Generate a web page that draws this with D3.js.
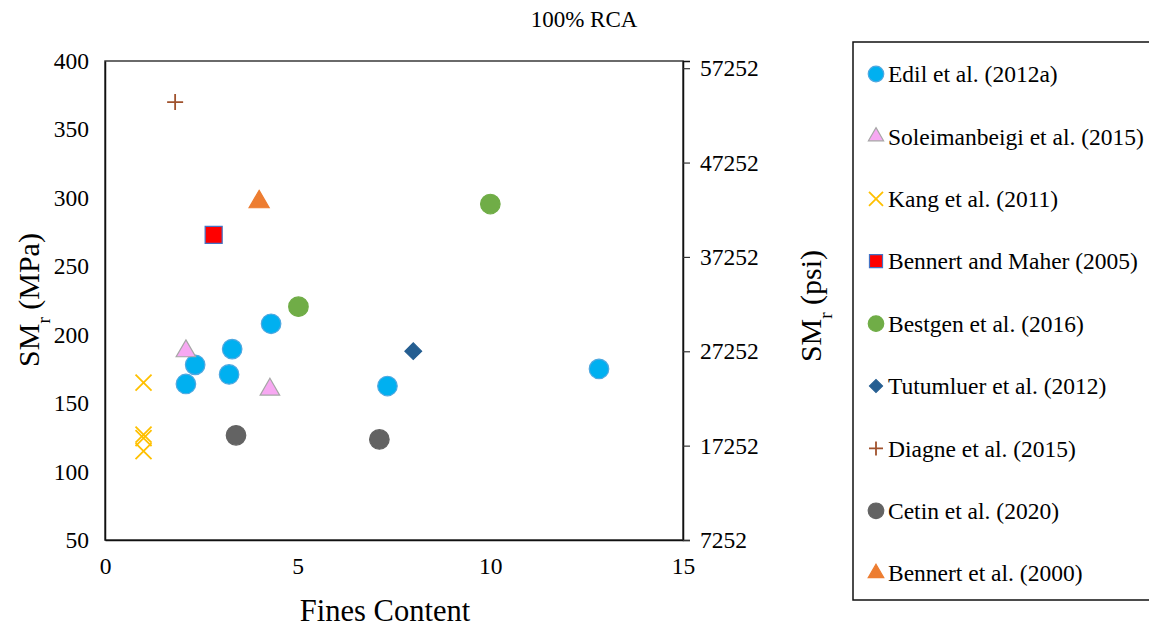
<!DOCTYPE html>
<html>
<head>
<meta charset="utf-8">
<script src="https://cdn.jsdelivr.net/npm/d3@7"></script>
<style>
  body { margin: 0; background: #fff; }
  text { font-family: "Liberation Serif", "Times New Roman", serif; fill: #000; }
</style>
</head>
<body>
<script>
// series values (x = fines content, y = SMr in MPa)
var edilX = [2.1, 2.34, 3.22, 3.3, 4.31, 7.33, 12.82],
    edilY = [164, 178, 171, 189.5, 208, 162.5, 175];
var soleX = [2.1, 4.28],
    soleY = [188, 160];
var kangX = [1.0, 1.0, 1.0, 1.0],
    kangY = [165, 127, 124.5, 115];
var bennertMaherX = [2.82],
    bennertMaherY = [273];
var bestgenX = [5.02, 10.0],
    bestgenY = [220.5, 295.5];
var tutumluerX = [8.0],
    tutumluerY = [188];
var diagneX = [1.82],
    diagneY = [370];
var cetinX = [3.4, 7.12],
    cetinY = [126.5, 123.5];
var bennert2000X = [4.0],
    bennert2000Y = [297];

var seriesNames = ["Edil et al. (2012a)", "Soleimanbeigi et al. (2015)", "Kang et al. (2011)",
                   "Bennert and Maher (2005)", "Bestgen et al. (2016)", "Tutumluer et al. (2012)",
                   "Diagne et al. (2015)", "Cetin et al. (2020)", "Bennert et al. (2000)"];

var xTicks = [0, 5, 10, 15],
    yTicks = [50, 100, 150, 200, 250, 300, 350, 400],
    psiTicks = [7252, 17252, 27252, 37252, 47252, 57252];

var title = "100% RCA";

var serif = "'Liberation Serif', 'Times New Roman', serif";
var width = 1149, height = 630;
var plot = {left: 105, right: 683, top: 61, bottom: 540};

var svg = d3.select("body")
            .append("svg")
            .attr("width", width)
            .attr("height", height);

var xScale = d3.scaleLinear().domain([0, 15]).range([plot.left, plot.right]);
var yScale = d3.scaleLinear().domain([50, 400]).range([plot.bottom, plot.top]);
// psi axis: 1 MPa = 145.038 psi, bottom of the axis sits at 7252 psi
var psiScale = d3.scaleLinear()
                 .domain([50 * 145.038, 400 * 145.038])
                 .range([plot.bottom, plot.top]);

// plot frame
svg.append("rect")
   .attr("x", plot.left)
   .attr("y", plot.top)
   .attr("width", plot.right - plot.left)
   .attr("height", plot.bottom - plot.top)
   .attr("fill", "none")
   .attr("stroke", "#3a3a3a")
   .attr("stroke-width", 1.5);

var xAxis = svg.append("g")
               .attr("transform", "translate(0," + plot.bottom + ")")
               .call(d3.axisBottom(xScale).tickValues(xTicks).tickSize(0).tickPadding(17));

var yAxis = svg.append("g")
               .attr("transform", "translate(" + plot.left + ",0)")
               .call(d3.axisLeft(yScale).tickValues(yTicks).tickSize(0).tickPadding(16));

var psiAxis = svg.append("g")
                 .attr("transform", "translate(" + plot.right + ",0)")
                 .call(d3.axisRight(psiScale).tickValues(psiTicks).tickSize(7).tickPadding(10)
                         .tickFormat(d3.format("d")));

[xAxis, yAxis, psiAxis].forEach(function(ax) {
  ax.attr("font-family", serif).attr("font-size", 23.5);
  ax.select(".domain").attr("stroke", "#111").attr("stroke-width", 1.5);
  ax.selectAll(".tick line").attr("stroke", "#333").attr("stroke-width", 1.2);
  ax.selectAll("text")
    .style("font-family", serif)
    .style("font-size", "23.5px")
    .attr("fill", "#000");
});

// symbol paths
var plusPath = function(r) {
  return "M" + (-r) + ",0L" + r + ",0M0," + (-r) + "L0," + r;
};
var xPath = function(r) {
  return "M" + (-r) + "," + (-r) + "L" + r + "," + r + "M" + (-r) + "," + r + "L" + r + "," + (-r);
};

var styles = [
  {x: edilX, y: edilY, type: "circle", fill: "#00B0F0", stroke: "#4FA8E0", big: 300, small: 190},
  {x: soleX, y: soleY, type: "triangle", fill: "#F7A8F2", stroke: "#A6A6A6", big: 165, small: 100},
  {x: kangX, y: kangY, type: "x", fill: "none", stroke: "#FFC000", big: 8, small: 7},
  {x: bennertMaherX, y: bennertMaherY, type: "square", fill: "#FF0000", stroke: "#4472C4", big: 290, small: 170},
  {x: bestgenX, y: bestgenY, type: "circle", fill: "#70AD47", stroke: "#70AD47", big: 300, small: 190},
  {x: tutumluerX, y: tutumluerY, type: "diamond", fill: "#255E91", stroke: "#255E91", big: 140, small: 85},
  {x: diagneX, y: diagneY, type: "plus", fill: "none", stroke: "#A0522D", big: 8, small: 7},
  {x: cetinX, y: cetinY, type: "circle", fill: "#636363", stroke: "#636363", big: 300, small: 190},
  {x: bennert2000X, y: bennert2000Y, type: "triangle", fill: "#ED7D31", stroke: "#ED7D31", big: 175, small: 105}
];

var drawMarker = function(g, s, size) {
  if (s.type == "plus" || s.type == "x") {
    g.append("path")
     .attr("d", s.type == "plus" ? plusPath(size) : xPath(size))
     .attr("fill", "none")
     .attr("stroke", s.stroke)
     .attr("stroke-width", 1.8);
    return;
  }
  var sym = s.type == "circle" ? d3.symbolCircle
          : s.type == "triangle" ? d3.symbolTriangle
          : d3.symbolSquare;
  g.append("path")
   .attr("d", d3.symbol().type(sym).size(size)())
   .attr("transform", s.type == "diamond" ? "rotate(45)" : null)
   .attr("fill", s.fill)
   .attr("stroke", s.stroke)
   .attr("stroke-width", 1.2);
};

styles.forEach(function(s) {
  var pts = s.x.map(function(v, i) { return [v, s.y[i]]; });
  svg.append("g")
     .selectAll("g")
     .data(pts)
     .enter()
     .append("g")
     .attr("transform", function(d) {
       return "translate(" + xScale(d[0]) + "," + yScale(d[1]) + ")";
     })
     .each(function() { drawMarker(d3.select(this), s, s.big); });
});

// titles
svg.append("text")
   .attr("x", 584)
   .attr("y", 27)
   .attr("text-anchor", "middle")
   .style("font-family", serif)
   .style("font-size", "23px")
   .text(title);

svg.append("text")
   .attr("x", 385)
   .attr("y", 621)
   .attr("text-anchor", "middle")
   .style("font-family", serif)
   .style("font-size", "30.5px")
   .text("Fines Content");

var yTitle = svg.append("text")
                .attr("transform", "translate(39,300) rotate(-90)")
                .attr("text-anchor", "middle")
                .style("font-family", serif)
                .style("font-size", "30px");
yTitle.append("tspan").text("SM");
yTitle.append("tspan").attr("baseline-shift", "sub").style("font-size", "19px").text("r");
yTitle.append("tspan").text(" (MPa)");

var psiTitle = svg.append("text")
                  .attr("transform", "translate(821,306) rotate(-90)")
                  .attr("text-anchor", "middle")
                  .style("font-family", serif)
                  .style("font-size", "30px");
psiTitle.append("tspan").text("SM");
psiTitle.append("tspan").attr("baseline-shift", "sub").style("font-size", "19px").text("r");
psiTitle.append("tspan").text(" (psi)");

// legend box runs off the right edge, like the picture
svg.append("rect")
   .attr("x", 853)
   .attr("y", 42)
   .attr("width", 320)
   .attr("height", 558)
   .attr("fill", "none")
   .attr("stroke", "#111")
   .attr("stroke-width", 1.5);

var legend = svg.selectAll(".legend")
                .data(styles)
                .enter()
                .append("g")
                .attr("class", "legend")
                .attr("transform", function(d, i) {
                  return "translate(876," + (74 + i * 62.4) + ")";
                });

legend.each(function(s) { drawMarker(d3.select(this), s, s.small); });

legend.append("text")
      .attr("x", 12)
      .attr("dy", "0.35em")
      .style("font-family", serif)
      .style("font-size", "23.5px")
      .text(function(d, i) { return seriesNames[i]; });
</script>
</body>
</html>
